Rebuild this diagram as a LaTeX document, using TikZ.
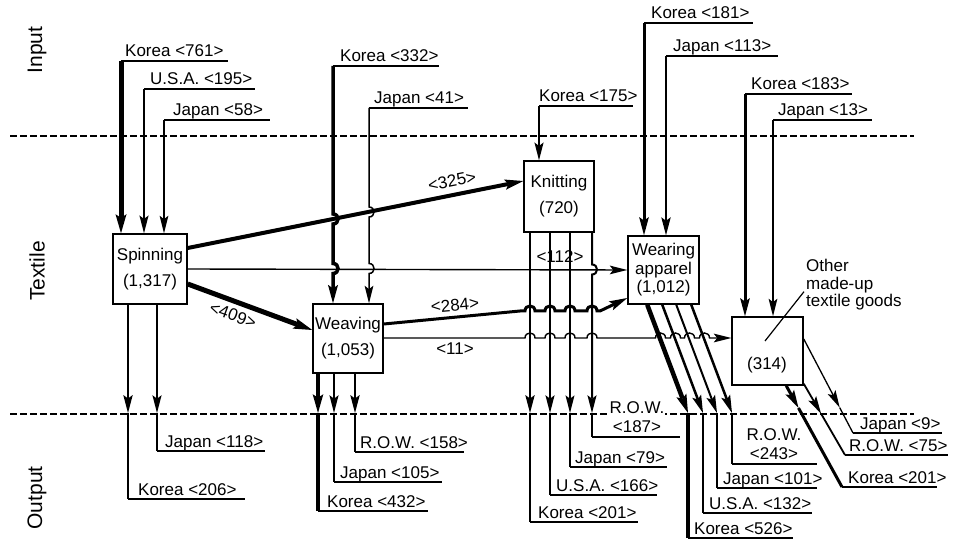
\documentclass[tikz,border=0pt]{standalone}
\usepackage{fontspec}
\setmainfont{Liberation Sans}
\usetikzlibrary{arrows.meta,calc}
\tikzset{
  ftip/.tip={Stealth[length=17pt 0.4,width=8pt 0.6,inset=3.5pt,line width=0pt]},
  flow/.style={-{ftip}, line width=1.4pt},
  plainflow/.style={line width=1.4pt},
  uline/.style={line width=1.3pt},
  lab/.style={anchor=base west, inner sep=0pt, font=\fontsize{17}{19}\selectfont},
  flab/.style={inner sep=0pt, font=\fontsize{17}{19}\selectfont},
  procbox/.style={draw, line width=1.5pt, align=center, inner sep=0pt, font=\fontsize{17}{26}\selectfont},
  sep/.style={line width=1.3pt, dash pattern=on 7pt off 3pt},
  side/.style={rotate=90, font=\fontsize{21}{24}\selectfont},
  hj/.style 2 args={insert path={-- (#1-5,#2) .. controls (#1-5,#2-6.7) and (#1+5,#2-6.7) .. (#1+5,#2)}},
  vj/.style 2 args={insert path={-- (#1,#2-5) .. controls (#1+6.7,#2-5) and (#1+6.7,#2+5) .. (#1,#2+5)}},
}
% name, x, y, underline end x, label, width, target, label xshift
\newcommand\inflow[8]{%
  \coordinate (#1) at (#2,#3);
  \draw[uline] (#1) -- (#4,#3);
  \node[lab] (#1l) at ([xshift=#8pt,yshift=4pt]#1) {#5};
  \draw[flow,line width=#6pt] (#1) -- (#1 |- #7.north);
}
% name, x, corner y, underline end x, label, width, source, label xshift
\newcommand\outflow[8]{%
  \coordinate (#1) at (#2,#3);
  \coordinate (#1t) at (#2,413);
  \draw[flow,line width=#6pt] (#1t |- #7.south) -- (#1t);
  \draw[plainflow,line width=#6pt] (#1t) -- (#1);
  \draw[uline] (#1) -- (#4,#3);
  \node[lab] (#1l) at ([xshift=#8pt,yshift=4pt]#1) {#5};
}
% name, start, tip, corner, underline end, label, width, label xshift
\newcommand\diagflow[8]{%
  \coordinate (#1) at #4;
  \draw[flow,line width=#7pt] #2 -- #3;
  \draw[plainflow,line width=#7pt] #3 -- (#1);
  \draw[uline] (#1) -- #5;
  \node[lab] (#1l) at ([xshift=#8pt,yshift=4pt]#1) {#6};
}
\begin{document}
\begin{tikzpicture}[x=1pt,y=-1pt]
\useasboundingbox (0,0) rectangle (961,545);
\draw[sep] (10,136) -- (914,136);
\draw[sep] (10,414) -- (914,414);
\node[side] (lin) at (37,50) {Input};
\node[side] (ltx) at (37,271) {Textile};
\node[side] (lout) at (37,498) {Output};

% boxes
\node[procbox, minimum width=74pt, minimum height=70pt] (spin) at (150,269) {Spinning\\(1,317)};
\node[procbox, minimum width=70pt, minimum height=69pt] (weav) at (348,338.5) {Weaving\\(1,053)};
\node[procbox, minimum width=70pt, minimum height=71pt] (knit) at (559,196.5) {Knitting\\(720)};
\node[procbox, font=\fontsize{17}{18.5}\selectfont, minimum width=71pt, minimum height=68pt] (wear) at (663.5,270) {Wearing\\apparel\\(1,012)};
\node[procbox, minimum width=71pt, minimum height=68pt] (oth) at (767.5,351) {};
\node[flab] (n314) at (767,365) {(314)};
\node[flab, anchor=north west, align=left, font=\fontsize{17}{17.5}\selectfont] (othl) at (806,259) {Other\\made-up\\textile goods};
\draw[line width=1.2pt] ([xshift=-2.5pt,yshift=10pt]oth.center) -- ([xshift=-2pt,yshift=-7pt]othl.west);

% inputs
\inflow{i1}{121}{61}{228}{Korea <761>}{5}{spin}{4}
\inflow{i2}{144}{89}{255}{U.S.A. <195>}{2}{spin}{6}
\inflow{i3}{164}{120}{270}{Japan <58>}{1.5}{spin}{9}
\coordinate (i4) at (333,66);
\draw[uline] (i4) -- (439,66);
\node[lab] (i4l) at ([xshift=7pt,yshift=4pt]i4) {Korea <332>};
\draw[flow,line width=3.5pt] (i4) [vj={333}{219}] [vj={333}{268.5}] -- (i4 |- weav.north);
\coordinate (i5) at (369,108);
\draw[uline] (i5) -- (468,108);
\node[lab] (i5l) at ([xshift=5pt,yshift=4pt]i5) {Japan <41>};
\draw[flow,line width=1.5pt] (i5) [vj={369}{212}] [vj={369}{268.5}] -- (i5 |- weav.north);
\inflow{i6}{539}{106}{633}{Korea <175>}{2}{knit}{0}
\inflow{i7}{644}{23}{753}{Korea <181>}{3}{wear}{7}
\inflow{i8}{666}{56}{778}{Japan <113>}{2.5}{wear}{7}
\inflow{i9}{745}{94}{852}{Korea <183>}{3}{oth}{6}
\inflow{i10}{773}{120}{872}{Japan <13>}{1.5}{oth}{5}

% outputs
\outflow{o1}{128}{499}{245}{Korea <206>}{2.5}{spin}{10}
\outflow{o2}{157}{451}{265}{Japan <118>}{2}{spin}{8}
\outflow{o3}{318}{511}{428}{Korea <432>}{4.5}{weav}{9}
\outflow{o4}{334}{482}{442}{Japan <105>}{2}{weav}{6}
\outflow{o5}{355}{452}{464}{R.O.W. <158>}{2.5}{weav}{5}
\outflow{o6}{530}{522}{638}{Korea <201>}{2.5}{knit}{8}
\outflow{o7}{550}{495}{657}{U.S.A. <166>}{2}{knit}{6}
\outflow{o8}{570}{467}{667}{Japan <79>}{1.8}{knit}{5}
\coordinate (o9) at (592,437);
\coordinate (o9t) at (592,413);
\draw[flow,line width=2pt] (o9t |- knit.south) [vj={592}{269.5}] -- (o9t);
\draw[plainflow,line width=2pt] (o9t) -- (o9);
\draw[uline] (o9) -- (680,437);
\node[flab, align=center, fill=white, inner sep=1pt, anchor=south] (o9l) at (637,434) {R.O.W.\\<187>};

\diagflow{w1}{([xshift=20pt]wear.south west)}{(688,413)}{(688,538)}{(793,538)}{Korea <526>}{4.5}{6}
\diagflow{w2}{([xshift=35pt]wear.south west)}{(703,413)}{(703,513)}{(812,513)}{U.S.A. <132>}{2.5}{6}
\diagflow{w3}{([xshift=49pt]wear.south west)}{(717,413)}{(717,488)}{(817,488)}{Japan <101>}{2}{6}
\coordinate (w4s) at ([xshift=64pt]wear.south west);
\coordinate (w4) at (732,464);
\draw[flow,line width=2.5pt] (w4s) -- (732,413);
\draw[plainflow,line width=2.5pt] (732,413) -- (w4);
\draw[uline] (w4) -- (817,464);
\node[flab, align=center, anchor=south] (w4l) at (774,460) {R.O.W.\\<243>};

\coordinate (x1s) at ([xshift=55pt]oth.south west);
\coordinate (x2s) at ([yshift=2pt]oth.south east);
\coordinate (x3s) at ([yshift=12pt]oth.east);
\diagflow{x1}{(x1s)}{($(x1s)!0.22!(842,487)$)}{(842,487)}{(937,487)}{Korea <201>}{3}{6}
\diagflow{x2}{(x2s)}{($(x2s)!0.42!(845,455)$)}{(845,455)}{(948,455)}{R.O.W. <75>}{1.8}{4}
\diagflow{x3}{(x3s)}{($(x3s)!0.73!(853,433)$)}{(853,433)}{(942,433)}{Japan <9>}{1.3}{7}

% main flows
\draw[flow,line width=4pt] ([yshift=21pt]spin.east) -- ([yshift=15.5pt]knit.west);
\node[flab, rotate=11] (l325) at (452,181) {<325>};
\draw[flow,line width=1.4pt] (spin.east) -- (wear.west);
\node[flab] (l112) at (560,257) {<112>};
\draw[flow,line width=5pt] ([yshift=-15pt]spin.east) -- ([yshift=8.5pt]weav.west);
\node[flab, rotate=-20] (l409) at (233,315) {<409>};
\draw[flow,line width=3pt] ([yshift=14.5pt]weav.east) -- (520,311) [hj={530}{311}] [hj={550}{311}] [hj={570}{311}] [hj={592}{311}] -- (600,311) -- ([yshift=-28pt]wear.west);
\node[flab, rotate=5] (l284) at (455,305) {<284>};
\draw[flow,line width=1.4pt] ([yshift=0.5pt]weav.east) [hj={530}{338}] [hj={550}{338}] [hj={570}{338}] [hj={592}{338}] [hj={660.5}{338}] [hj={675.5}{338}] [hj={689.5}{338}] [hj={704.5}{338}] -- ([yshift=13pt]oth.west);
\node[flab] (l11) at (455,349) {<11>};
\end{tikzpicture}
\end{document}
